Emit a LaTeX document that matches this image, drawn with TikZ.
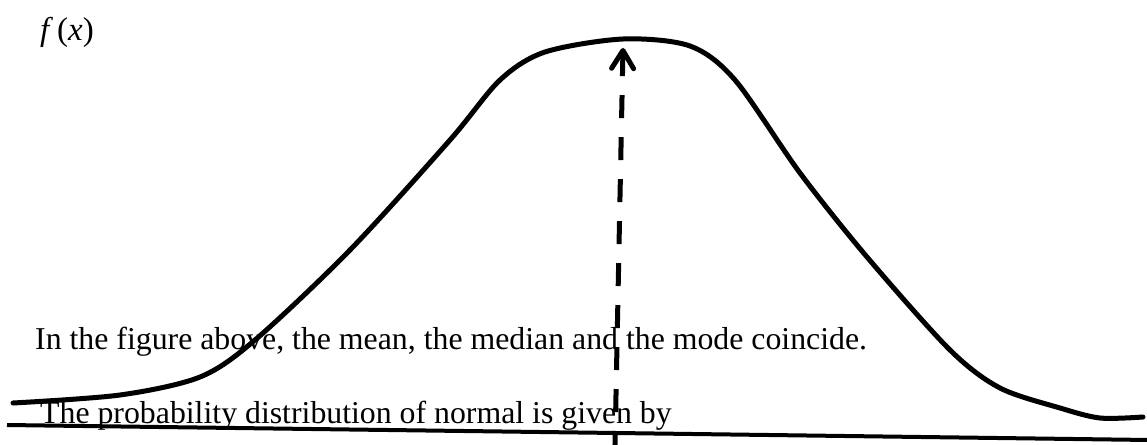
\documentclass[tikz,border=0pt]{standalone}
\usepackage{fontspec}
\setmainfont{Liberation Serif}
\usetikzlibrary{arrows.meta}

\begin{document}
\begin{tikzpicture}[
  x=1pt, y=-1pt,
  txt/.style={anchor=base west, inner sep=0pt, font=\fontsize{31.8}{38}\selectfont},
  bell/.style={line width=5pt, line join=round, line cap=round},
  axisline/.style={line width=4pt},
  arr/.style={-{Straight Barb[length=18pt, width=22pt, round]}, line width=5pt, dash pattern=on 23pt off 19pt}
]
\useasboundingbox (0,0) rectangle (1147,444);

\node[txt, font=\fontsize{33}{38}\selectfont] (fx) at (40,41) {\textit{f}\kern4pt(\textit{x})};
\node[txt] (remark) at (35,349) {In the figure above, the mean, the median and the mode coincide.};
\node[txt] (given) at (40,423) {The probability distribution of normal is given by};

% density curve
\draw[bell] plot[smooth, tension=0.5] coordinates {
  (13,403) (120,395) (200,377) (255,340) (350,250) (450,140)
  (500,80) (545,52) (623,39) (690,46) (735,80) (800,173)
  (867,257) (950,350) (1000,388) (1060,408) (1100,418) (1143,417)};

\coordinate (axisL) at (7,425);
\coordinate (axisR) at (1150,440);
\draw[axisline] (axisL) -- (axisR);

\coordinate (peak) at (623,48);
\coordinate (foot) at (614.8,454);
\draw[arr] (foot) -- (peak);
\end{tikzpicture}
\end{document}
